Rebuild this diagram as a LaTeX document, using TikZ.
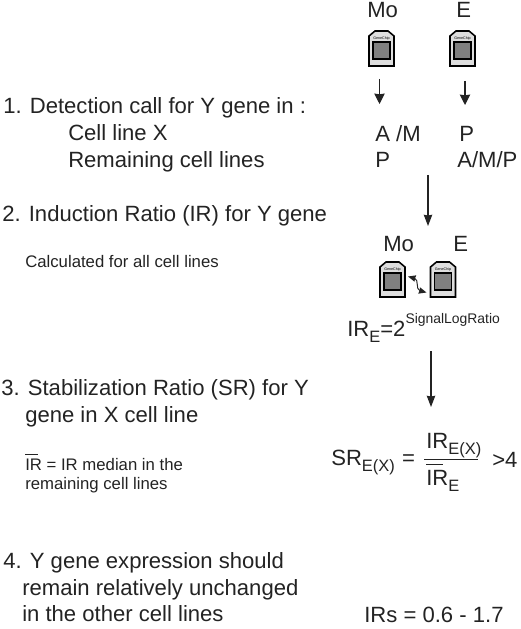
\documentclass[tikz,border=0pt]{standalone}
\usepackage{fontspec}
\setmainfont{Liberation Sans}
\usetikzlibrary{arrows.meta,positioning,calc}
\definecolor{ChipGray}{RGB}{222,222,222}
\definecolor{ChipCore}{RGB}{128,128,128}
\definecolor{InkMain}{RGB}{35,35,35}
\newcommand{\irbar}{\makebox[0pt][l]{\rule[0.93em]{0.77em}{0.5pt}}IR}
\newcommand{\lowsub}[1]{\raisebox{-4.8pt}{\fontsize{11.7}{14}\selectfont #1}}

\begin{document}
\begin{tikzpicture}[
  x=0.025cm, y=-0.025cm,
  steptext/.style={anchor=base west, inner sep=0pt, text=InkMain, font=\fontsize{15.7}{18}\selectfont},
  smalltext/.style={anchor=base west, inner sep=0pt, text=InkMain, font=\fontsize{11.9}{14}\selectfont},
  result/.style={anchor=base west, inner sep=0pt, text=InkMain, font=\fontsize{15.7}{18}\selectfont},
  chip/.style={
    rectangle, minimum width=0.625cm, minimum height=0.875cm, inner sep=0pt, outer sep=0pt,
    append after command={\pgfextra{
      \draw[draw=black, line width=1.1pt, fill=ChipGray, line join=miter]
        (\tikzlastnode.south west) -- ($(\tikzlastnode.north west)+(0,5)$)
        -- ($(\tikzlastnode.north west)+(6,0)$) -- ($(\tikzlastnode.north east)+(-6,0)$)
        -- ($(\tikzlastnode.north east)+(0,5)$) -- (\tikzlastnode.south east) -- cycle;
      \draw[fill=ChipCore, line width=0.8pt] ($(\tikzlastnode.center)+(-8.5,-6.5)$) rectangle ($(\tikzlastnode.center)+(8.5,10.5)$);
      \path ($(\tikzlastnode.center)+(0,-9.5)$) node[inner sep=0pt, font=\fontsize{2.6}{3}\selectfont] {GeneChip};
    }}
  },
  shortarr/.style={-{Stealth[length=2.6mm,width=2.6mm,inset=0.5pt]}, line width=0.8pt, InkMain},
  longarr/.style={-{Stealth[length=2.8mm,width=2.1mm,inset=0.5pt]}, line width=0.8pt, InkMain},
  swaparr/.style={{Stealth[length=1.9mm,width=1.6mm,inset=0.3pt]}-{Stealth[length=1.9mm,width=1.6mm,inset=0.3pt]}, line width=0.7pt, InkMain}
]
\useasboundingbox (0,0) rectangle (520,629);

% --- Steps (left column)
\node[steptext] (stepone)    at (3,114)   {1. Detection call for Y gene in :};
\node[steptext] (cellx)      at (68,141)  {Cell line X};
\node[steptext] (cellrest)   at (68,168)  {Remaining cell lines};
\node[steptext] (steptwo)    at (2,221)   {2. Induction Ratio (IR) for Y gene};
\node[smalltext] (calc)      at (25,267)  {Calculated for all cell lines};
\node[steptext] (stepthree)  at (1,395)   {3. Stabilization Ratio (SR) for Y};
\node[steptext] (stepthreeb) at (25,422)  {gene in X cell line};
\node[smalltext] (medianone) at (25,470)  {\irbar{} = IR median in the};
\node[smalltext] (mediantwo) at (25,489)  {remaining cell lines};
\node[steptext] (stepfour)   at (3,568)   {4. Y gene expression should};
\node[steptext] (stepfourb)  at (22,595)  {remain relatively unchanged};
\node[steptext] (stepfourc)  at (22,621)  {in the other cell lines};

% --- Chips (top)
\node[result] (motop) at (367,18) {Mo};
\node[result] (etop)  at (456,18) {E};
\node[chip] (chipmo) at (381.5,48.5) {};
\node[chip] (chipe)  at (462.5,48.5) {};
\coordinate (arrmo) at (379.5,79);
\coordinate (arre)  at (465,81);
\node[result] (callmo) at (375,142) {A /M};
\node[result] (calle)  at (459,142) {P};
\node[result] (restmo) at (375,168) {P};
\node[result] (reste)  at (457,168) {A/M/P};
\coordinate (arrmoend) at (379.5,104);
\coordinate (arreend)  at (465,105);

% --- Induction ratio
\coordinate (arrtwo) at (428,175);
\coordinate (arrtwoend) at (428,226);
\node[result] (momid) at (383,251) {Mo};
\node[result] (emid)  at (453,251) {E};
\node[chip] (chipmob) at (392.5,279.5) {};
\node[chip] (chipeb)  at (443,279.5) {};
\node[result] (irformula) at (347,336) {IR\lowsub{E}=2\raisebox{9.2pt}{\fontsize{9.9}{12}\selectfont SignalLogRatio}};

% --- Stabilization ratio
\coordinate (arrthree) at (431,351);
\coordinate (arrthreeend) at (431,407);
\node[result] (srleft) at (331,465) {SR\lowsub{E(X)}\,\,=};
\node[result] (srnum)  at (426,448) {IR\lowsub{E(X)}};
\node[result] (srden)  at (426,485) {\irbar\lowsub{E}};
\coordinate (barleft) at (424,459);
\coordinate (barright) at (478,459);
\node[result] (srgt) at (492,467) {>4};

% --- Last step
\node[result] (irs) at (364,622) {IRs = 0.6 - 1.7};

% --- Arrows
\draw[shortarr] (arrmo) -- (arrmoend);
\draw[shortarr] (arre) -- (arreend);
\draw[longarr] (arrtwo) -- (arrtwoend);
\draw[longarr] (arrthree) -- (arrthreeend);
\draw[swaparr] ($(chipmob.east)+(3,-3)$) .. controls +(11,3) and +(-11,-3) .. ($(chipeb.west)+(-4,13)$);
\draw[line width=0.6pt, InkMain] (barleft) -- (barright);

\end{tikzpicture}
\end{document}
